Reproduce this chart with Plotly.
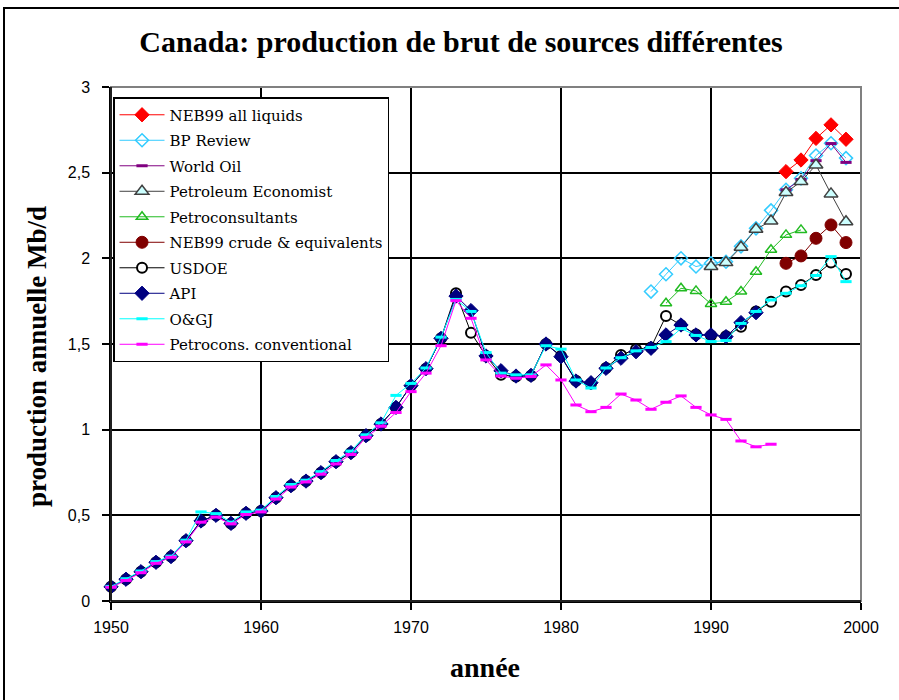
import plotly.graph_objects as go

# ---------------- data ----------------
years_neb_all = [1995, 1996, 1997, 1998, 1999]
neb_all = [2.506, 2.574, 2.70, 2.779, 2.695]

years_bp = list(range(1986, 2000))
bp = [1.806, 1.907, 2.00, 1.952, 1.971, 1.98, 2.07, 2.175, 2.28, 2.40, 2.467, 2.60, 2.672, 2.585]

years_wo = [1995, 1996, 1997, 1998, 1999]
world_oil = [2.40, 2.46, 2.57, 2.67, 2.56]

years_pe = list(range(1990, 2000))
pet_econ = [1.952, 1.975, 2.065, 2.17, 2.218, 2.384, 2.448, 2.545, 2.376, 2.214]

years_pc = list(range(1987, 1997))
petrocons = [1.738, 1.825, 1.81, 1.734, 1.747, 1.806, 1.922, 2.05, 2.137, 2.166]

years_neb_crude = [1995, 1996, 1997, 1998, 1999]
neb_crude = [1.971, 2.014, 2.117, 2.195, 2.092]

years_usdoe = list(range(1950, 2000))
usdoe = [0.083, 0.127, 0.171, 0.226, 0.259, 0.352, 0.467, 0.50, 0.453, 0.512,
         0.525, 0.603, 0.673, 0.70, 0.749, 0.813, 0.866, 0.965, 1.033, 1.13,
         1.257, 1.356, 1.533, 1.796, 1.566, 1.43, 1.32, 1.31, 1.315, 1.50,
         1.43, 1.285, 1.27, 1.36, 1.436, 1.469, 1.48, 1.664, 1.61, 1.555,
         1.55, 1.545, 1.60, 1.69, 1.747, 1.806, 1.845, 1.903, 1.975, 1.909]

years_api = list(range(1950, 1994))
api = [0.083, 0.127, 0.171, 0.226, 0.259, 0.352, 0.467, 0.50, 0.453, 0.512,
       0.525, 0.603, 0.673, 0.70, 0.749, 0.813, 0.866, 0.965, 1.033, 1.13,
       1.257, 1.356, 1.533, 1.78, 1.695, 1.43, 1.344, 1.313, 1.317, 1.50,
       1.426, 1.284, 1.274, 1.358, 1.417, 1.455, 1.475, 1.553, 1.611, 1.553,
       1.553, 1.543, 1.625, 1.683]

years_ogj = list(range(1950, 2000))
ogj = [0.085, 0.13, 0.175, 0.23, 0.262, 0.355, 0.52, 0.51, 0.46, 0.52,
       0.53, 0.61, 0.68, 0.705, 0.755, 0.82, 0.875, 0.97, 1.04, 1.20,
       1.27, 1.36, 1.54, 1.76, 1.69, 1.45, 1.33, 1.32, 1.32, 1.49,
       1.47, 1.29, 1.243, 1.36, 1.42, 1.46, 1.48, 1.514, 1.59, 1.55,
       1.514, 1.52, 1.62, 1.69, 1.757, 1.796, 1.84, 1.90, 2.01, 1.864]

years_pcc = list(range(1950, 1995))
petrocons_conv = [0.08, 0.12, 0.165, 0.22, 0.255, 0.345, 0.46, 0.49, 0.45, 0.505,
                  0.52, 0.595, 0.665, 0.695, 0.74, 0.80, 0.855, 0.955, 1.02, 1.10,
                  1.222, 1.33, 1.49, 1.753, 1.65, 1.407, 1.313, 1.30, 1.31, 1.378,
                  1.29, 1.144, 1.105, 1.13, 1.208, 1.173, 1.119, 1.16, 1.197, 1.13,
                  1.086, 1.06, 0.934, 0.90, 0.915]

x_ticks = [1950, 1960, 1970, 1980, 1990, 2000]
y_ticks = [0, 0.5, 1, 1.5, 2, 2.5, 3]

# ---------------- figure ----------------
fig = go.Figure()

def add(name, xs, ys, color, symbol, size, fill=None, mline=None, mlw=1, lw=1):
    marker = dict(symbol=symbol, size=size,
                  color=fill if fill is not None else color,
                  line=dict(color=mline if mline is not None else color, width=mlw))
    fig.add_trace(go.Scatter(x=xs, y=ys, name=name, mode="lines+markers",
                             legendgroup=name, cliponaxis=False,
                             line=dict(color=color, width=lw), marker=marker))

add("NEB99 all liquids", years_neb_all, neb_all, "#FF0000", "diamond", 11)
add("BP Review", years_bp, bp, "#33CCFF", "diamond-open", 10, mlw=1.5)
add("World Oil", years_wo, world_oil, "#800080", "line-ew", 8, mlw=3)
add("Petroleum Economist", years_pe, pet_econ, "#404040", "triangle-up", 12,
    fill="#CCFFFF", mline="#404040", mlw=1.5)
add("Petroconsultants", years_pc, petrocons, "#22BB22", "triangle-up-open", 10, mlw=1.5)
add("NEB99 crude & equivalents", years_neb_crude, neb_crude, "#800000", "circle", 12)
add("USDOE", years_usdoe, usdoe, "#000000", "circle", 10, fill="#FFFFFF",
    mline="#000000", mlw=2)
add("API", years_api, api, "#000080", "diamond", 11)
add("O&GJ", years_ogj, ogj, "#00FFFF", "line-ew", 8, mlw=3)
add("Petrocons. conventional", years_pcc, petrocons_conv, "#FF00FF", "line-ew", 8, mlw=3)

axis_common = dict(showgrid=True, gridcolor="#000000", gridwidth=1.5,
                   showline=True, linecolor="#000000", linewidth=1.5,
                   ticks="outside", ticklen=7, tickcolor="#000000", tickwidth=1.5,
                   zeroline=False,
                   tickfont=dict(family="Liberation Sans, Arial, sans-serif",
                                 size=16, color="#000000"))

fig.update_xaxes(range=[1950, 2000], tickvals=x_ticks, ticktext=[str(v) for v in x_ticks],
                 ticklabelstandoff=4, **axis_common)
fig.update_yaxes(range=[0, 3], tickvals=y_ticks,
                 ticktext=[("%g" % v).replace(".", ",") for v in y_ticks],
                 ticklabelstandoff=9, **axis_common)

serif_bold = "Liberation Serif, Times New Roman, serif"

fig.update_layout(
    width=899, height=700,
    margin=dict(l=111, r=38, t=87, b=99),
    paper_bgcolor="#FFFFFF", plot_bgcolor="#FFFFFF",
    title=dict(text="<b>Canada: production de brut de sources différentes</b>",
               x=461 / 899, xanchor="center", y=1 - 41 / 700, yanchor="middle",
               font=dict(family=serif_bold, size=30, color="#000000")),
    legend=dict(x=0.0027, y=0.9805, xanchor="left", yanchor="top",
                bgcolor="#FFFFFF", bordercolor="#000000", borderwidth=1.5,
                font=dict(family="DejaVu Serif, serif", size=15, color="#000000"),
                itemwidth=45, traceorder="grouped", tracegroupgap=3.0),
    showlegend=True,
    annotations=[
        dict(text="<b>production annuelle Mb/d</b>", xref="paper", yref="paper",
             x=(37 - 111) / 750, y=(601 - 357) / 514, textangle=-90,
             showarrow=False, xanchor="center", yanchor="middle",
             font=dict(family=serif_bold, size=27, color="#000000")),
        dict(text="<b>année</b>", xref="paper", yref="paper",
             x=(485 - 111) / 750, y=(601 - 667) / 514,
             showarrow=False, xanchor="center", yanchor="middle",
             font=dict(family=serif_bold, size=28, color="#000000")),
    ],
    shapes=[
        dict(type="rect", xref="paper", yref="paper", x0=0, y0=0, x1=1, y1=1,
             line=dict(color="#808080", width=2), layer="above"),
        dict(type="rect", xref="paper", yref="paper",
             x0=(4 - 111) / 750, y0=(601 - 720) / 514,
             x1=(920 - 111) / 750, y1=(601 - 8) / 514,
             line=dict(color="#000000", width=2), layer="above"),
        dict(type="line", xref="paper", yref="paper", x0=0, y0=0, x1=1, y1=0,
             line=dict(color="#000000", width=1.5), layer="above"),
        dict(type="line", xref="paper", yref="paper", x0=0, y0=0, x1=0, y1=1,
             line=dict(color="#000000", width=1.5), layer="above"),
    ],
)

fig.write_html("out.html", config={"displayModeBar": False},
               post_script="document.body.style.margin='0px';")
